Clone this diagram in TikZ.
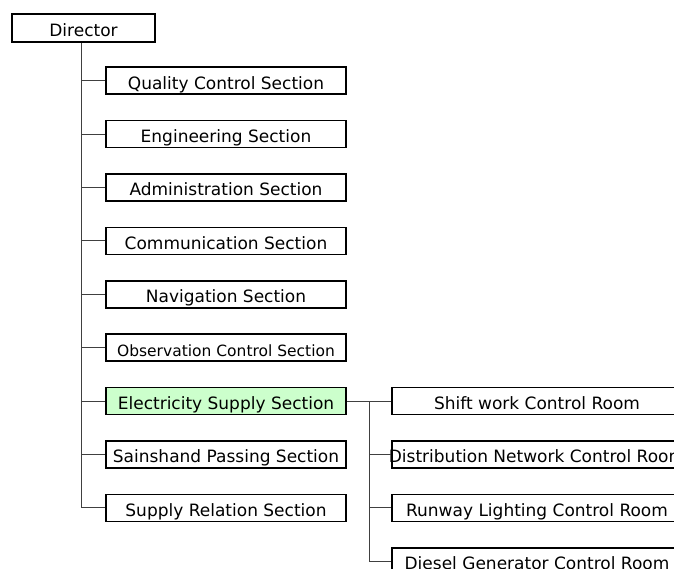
\documentclass[tikz,border=0pt]{standalone}
\usepackage{fontspec}
\setmainfont{DejaVu Sans}
\begin{document}
\begin{tikzpicture}[x=1pt,y=-1pt,
  box/.style={draw=black, line width=1.6pt, inner sep=0pt, minimum height=27pt,
    text height=22pt, text depth=5pt, font=\fontsize{17}{20}\selectfont},
  sect/.style={box, minimum width=240pt},
  room/.style={box, minimum width=290pt},
  link/.style={draw=black!75, line width=1pt}
]
\useasboundingbox (0,0) rectangle (674,568);
\clip (0,0) rectangle (674,568);

% head of the organisation
\node[box, minimum width=143pt, minimum height=28pt] (dir) at (83.5,28) {\makebox[0pt]{Director}};

% sections
\node[sect] (qc)   at (226,80.5)  {\makebox[0pt]{Quality Control Section}};
\node[sect] (eng)  at (226,134)   {\makebox[0pt]{Engineering Section}};
\node[sect] (adm)  at (226,187.4) {\makebox[0pt]{Administration Section}};
\node[sect] (com)  at (226,240.8) {\makebox[0pt]{Communication Section}};
\node[sect] (nav)  at (226,294.2) {\makebox[0pt]{Navigation Section}};
\node[sect, font=\fontsize{15.5}{18}\selectfont] (obs) at (226,347.6) {\makebox[0pt]{Observation Control Section}};
\node[sect, fill={rgb,255:red,204;green,255;blue,204}] (ele) at (226,401) {\makebox[0pt]{Electricity Supply Section}};
\node[sect] (sai)  at (226,454.4) {\makebox[0pt]{Sainshand Passing Section}};
\node[sect] (sup)  at (226,507.8) {\makebox[0pt]{Supply Relation Section}};

% control rooms under the electricity section
\node[room] (shift) at (537,401)   {\makebox[0pt]{Shift work Control Room}};
\node[room] (dist)  at (537,454.4) {\makebox[0pt]{Distribution Network Control Room}};
\node[room] (run)   at (537,507.8) {\makebox[0pt]{Runway Lighting Control Room}};
\node[room] (dies)  at (537,561.2) {\makebox[0pt]{Diesel Generator Control Room}};

% main trunk
\coordinate (t0) at (81,0);
\path[link] (dir.south -| t0) -- (sup.west -| t0);
\foreach \n in {qc,eng,adm,com,nav,obs,ele,sai,sup}
  \path[link] (\n.west -| t0) -- (\n.west);

% electricity branch
\coordinate (t1) at (369,0);
\path[link] (ele.east) -- (shift.west);
\path[link] (shift.west -| t1) -- (dies.west -| t1);
\foreach \n in {dist,run,dies}
  \path[link] (\n.west -| t1) -- (\n.west);
\end{tikzpicture}
\end{document}
